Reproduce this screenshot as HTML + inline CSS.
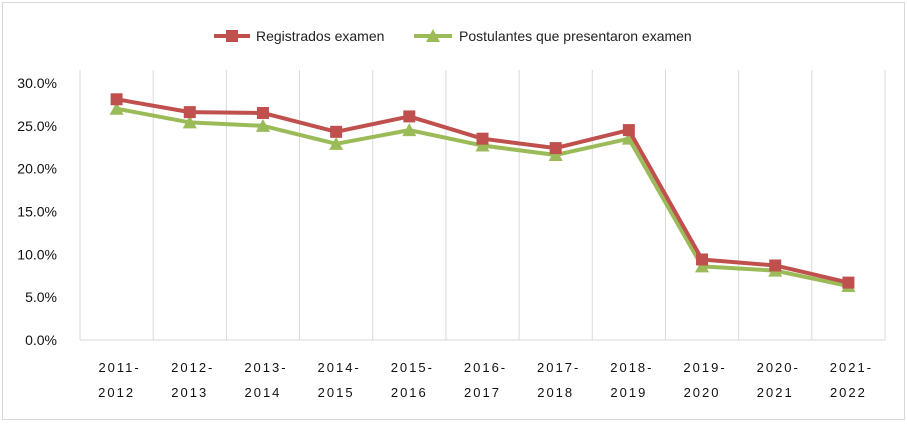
<!DOCTYPE html>
<html><head><meta charset="utf-8"><style>
body{margin:0;background:#fff;}
svg text{font-family:"Liberation Sans",sans-serif;}
</style></head><body>
<svg width="907" height="422" xmlns="http://www.w3.org/2000/svg">
<rect x="2.5" y="2.5" width="902" height="417" fill="#fff" stroke="#d9d9d9"/>
<g id="grid"></g>
<g id="yt"></g>
<g id="xt"></g>
<g id="series"></g>
<g>
<g>
<line x1="214" y1="36" x2="250" y2="36" stroke="#c0504d" stroke-width="4"/>
<rect x="226" y="30" width="12" height="12" fill="#c0504d"/>
<text x="256" y="41" font-size="14" fill="#222">Registrados examen</text></g>
<g>
<line x1="414" y1="36" x2="452" y2="36" stroke="#9bbb59" stroke-width="4"/>
<polygon points="433,29 440,42 426,42" fill="#9bbb59"/>
<text x="459" y="41" font-size="14" fill="#222">Postulantes que presentaron examen</text></g>
</g>
</svg>
<script>
const categories=["2011-2012","2012-2013","2013-2014","2014-2015","2015-2016","2016-2017","2017-2018","2018-2019","2019-2020","2020-2021","2021-2022"];
const registrados=[28.1,26.6,26.5,24.3,26.1,23.5,22.4,24.5,9.4,8.7,6.7];
const postulantes=[27.0,25.4,25.0,22.9,24.5,22.7,21.6,23.5,8.6,8.1,6.3];
const yTicks=[0,5,10,15,20,25,30];
const yTickLabels=["0.0%","5.0%","10.0%","15.0%","20.0%","25.0%","30.0%"];
const NS="http://www.w3.org/2000/svg";
const L=80,R=885,T=83,B=340;
const step=(R-L)/categories.length;
const x=i=>L+step*(i+0.5);
const y=v=>B-(v/30)*(B-T);
function mk(t,a,p){const e=document.createElementNS(NS,t);for(const k in a)e.setAttribute(k,a[k]);p.appendChild(e);return e;}
const grid=document.getElementById('grid');
for(let i=0;i<=categories.length;i++){
 const l=mk('line',{x1:L+step*i,x2:L+step*i,y1:T-13,y2:B,stroke:'#d9d9d9','stroke-width':1},grid);
 
 
}
const ax=mk('line',{x1:L,x2:R,y1:B,y2:B,stroke:'#d9d9d9','stroke-width':1},grid);


const yt=document.getElementById('yt');
yTicks.forEach((v,i)=>{const t=mk('text',{x:57,y:y(v)+5,'text-anchor':'end','font-size':14,fill:'#111'},yt);t.textContent=yTickLabels[i];
 
 });
const xt=document.getElementById('xt');
categories.forEach((c,i)=>{const p=c.split('-');
 const t1=mk('text',{x:x(i)+3,y:372,'text-anchor':'middle','font-size':13,fill:'#111','letter-spacing':'2'},xt);t1.textContent=p[0]+'-';
 
 
 const t2=mk('text',{x:x(i),y:397,'text-anchor':'middle','font-size':13,fill:'#111','letter-spacing':'2'},xt);t2.textContent=p[1];
 
 });
const sg=document.getElementById('series');
function line(vals,col,name,marker){
 const pl=mk('polyline',{points:vals.map((v,i)=>x(i)+','+y(v)).join(' '),fill:'none',stroke:col,'stroke-width':4,'stroke-linejoin':'round'},sg);
 
 
 vals.forEach((v,i)=>{let m;
  if(marker==='sq')m=mk('rect',{x:x(i)-6,y:y(v)-6,width:12,height:12,fill:col},sg);
  else m=mk('polygon',{points:`${x(i)},${y(v)-7} ${x(i)+7},${y(v)+6} ${x(i)-7},${y(v)+6}`,fill:col},sg);
  
  });
}
line(postulantes,'#9bbb59','postulantes','tri');
line(registrados,'#c0504d','registrados','sq');
</script>
</body></html>
